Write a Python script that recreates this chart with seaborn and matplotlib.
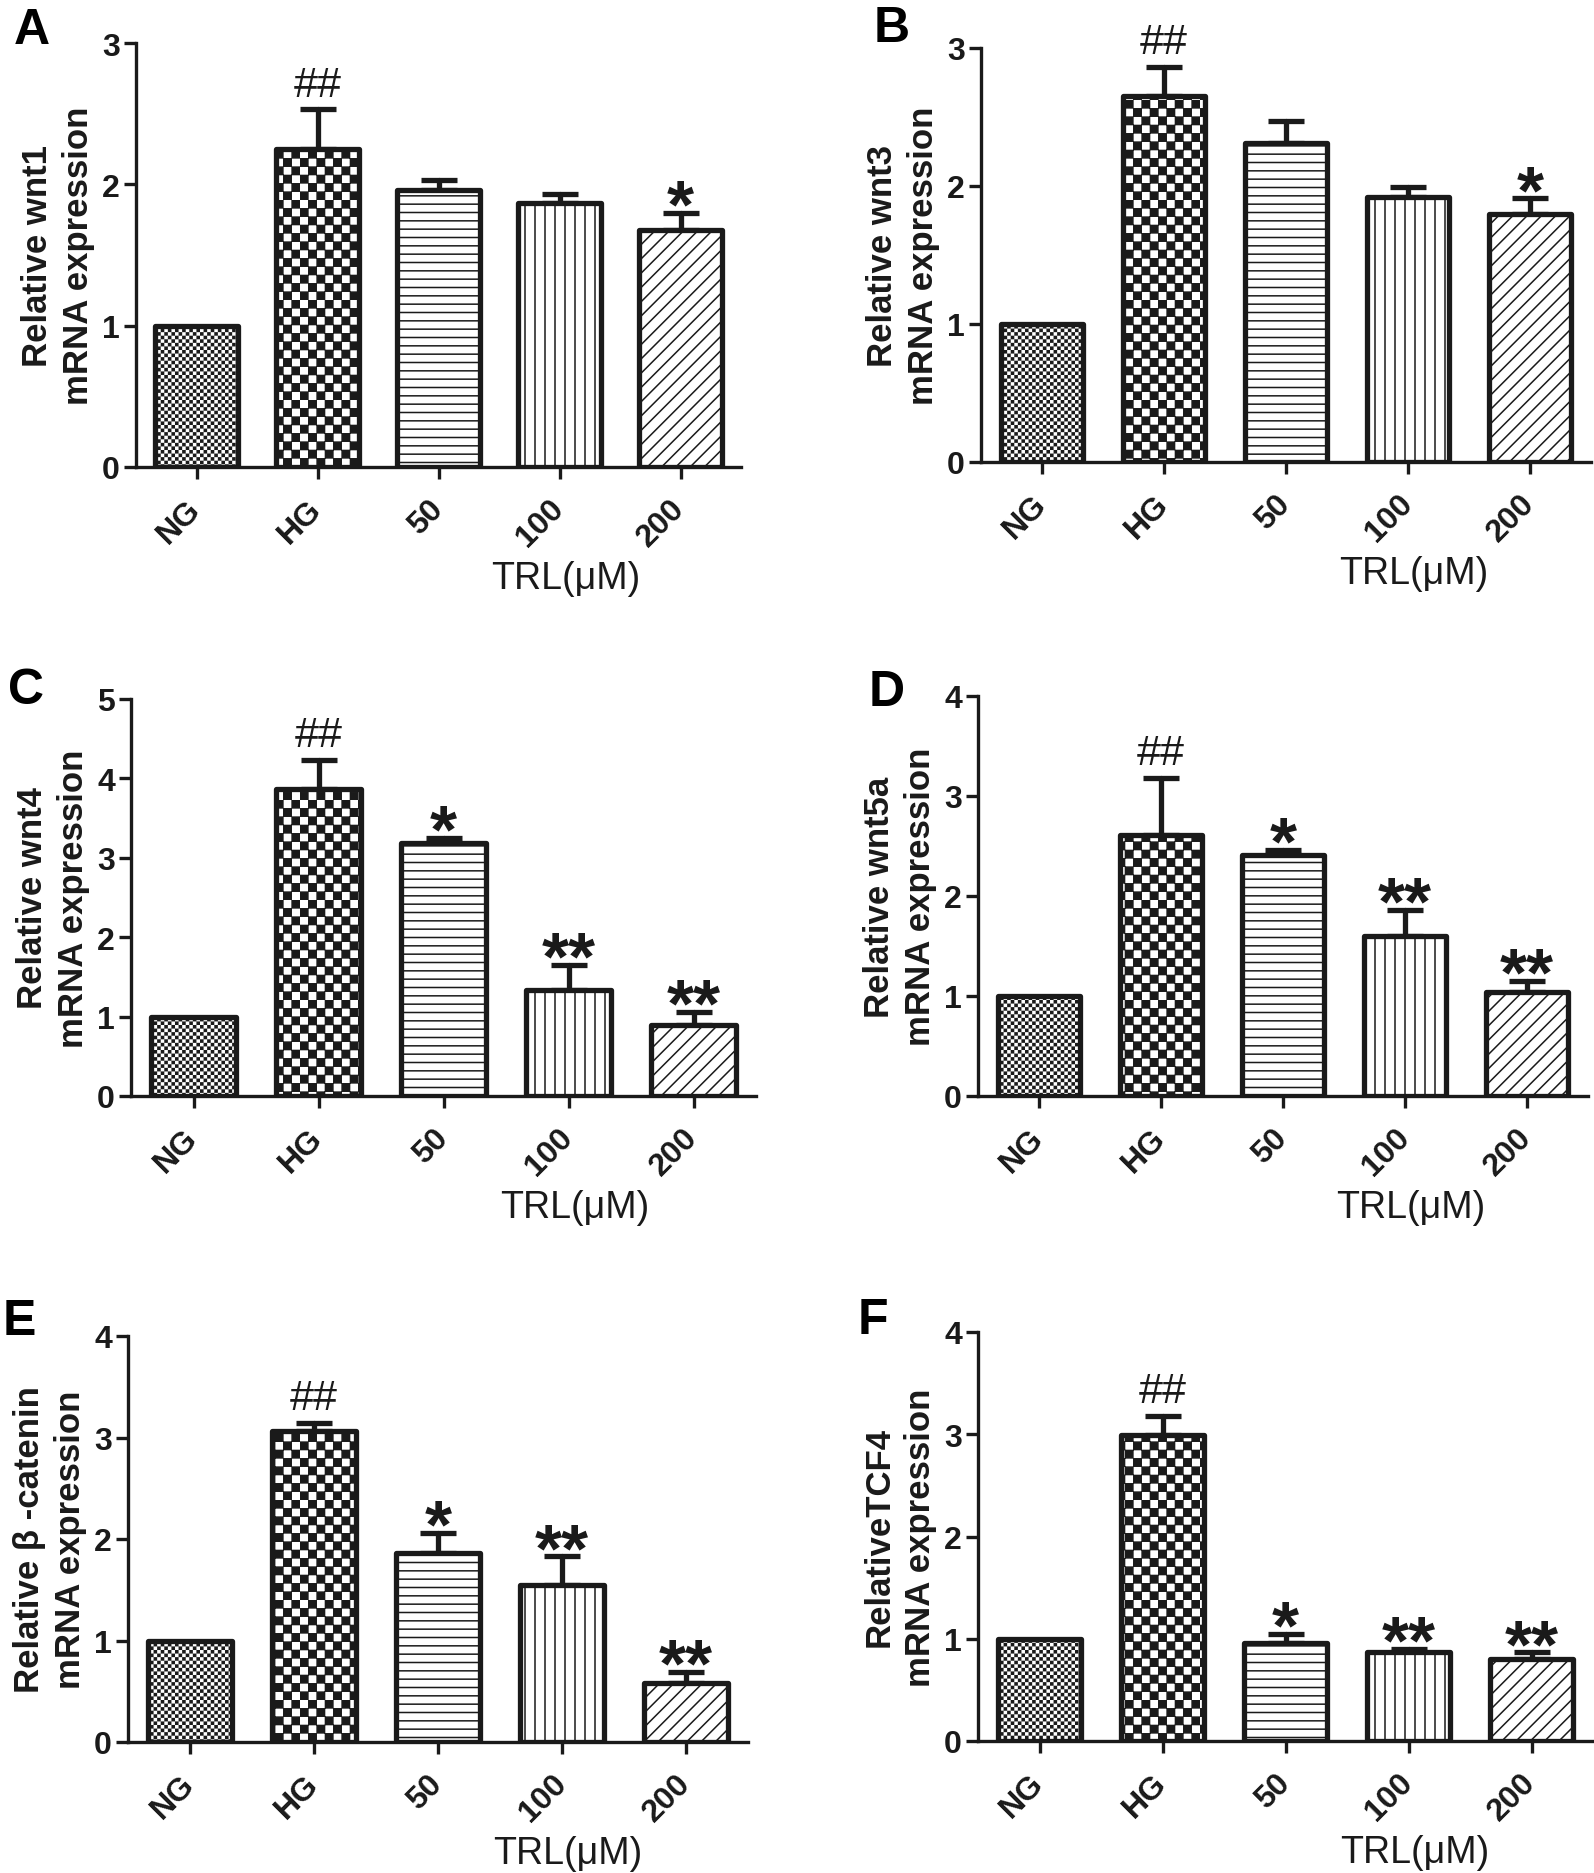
import warnings
warnings.filterwarnings('ignore')
import numpy as np
import pandas as pd
import matplotlib
matplotlib.use('Agg')
import matplotlib.pyplot as plt
import matplotlib.hatch as mhatch
import matplotlib.transforms as mtrans
from matplotlib import font_manager
from matplotlib.path import Path
import seaborn as sns

# ---------------- data ----------------
groups = ['NG', 'HG', '50', '100', '200']

wnt1_mean = [1.00, 2.25, 1.96, 1.87, 1.68]
wnt1_sem = [np.nan, 0.28, 0.07, 0.06, 0.12]
wnt1_sig = ['', '##', '', '', '*']

wnt3_mean = [1.00, 2.65, 2.31, 1.92, 1.80]
wnt3_sem = [np.nan, 0.21, 0.16, 0.07, 0.11]
wnt3_sig = ['', '##', '', '', '*']

wnt4_mean = [1.00, 3.87, 3.19, 1.33, 0.89]
wnt4_sem = [np.nan, 0.36, 0.06, 0.32, 0.17]
wnt4_sig = ['', '##', '*', '**', '**']

wnt5a_mean = [1.00, 2.61, 2.41, 1.60, 1.04]
wnt5a_sem = [np.nan, 0.57, 0.05, 0.26, 0.11]
wnt5a_sig = ['', '##', '*', '**', '**']

bcat_mean = [1.00, 3.06, 1.86, 1.55, 0.58]
bcat_sem = [np.nan, 0.08, 0.20, 0.28, 0.11]
bcat_sig = ['', '##', '*', '**', '**']

tcf4_mean = [1.00, 2.99, 0.96, 0.87, 0.80]
tcf4_sem = [np.nan, 0.19, 0.09, 0.03, 0.07]
tcf4_sig = ['', '##', '*', '**', '**']

ylabels = ['Relative wnt1\nmRNA expression',
           'Relative wnt3\nmRNA expression',
           'Relative wnt4\nmRNA expression',
           'Relative wnt5a\nmRNA expression',
           'Relative \u03b2 -catenin\nmRNA expression',
           'RelativeTCF4\nmRNA expression']
letters = ['A', 'B', 'C', 'D', 'E', 'F']
ymaxes = [3, 3, 5, 4, 4, 4]
xlabel = 'TRL(\u03bcM)'

# ---------------- custom hatches ----------------
class _CustomHatch(mhatch.HatchPatternBase):
    def __init__(self, hatch, density):
        if 'k' in hatch:
            self.checker, self.margin = 12, 0.0045
        elif 'f' in hatch:
            self.checker, self.margin = 28, 0.0075
        else:
            self.checker, self.margin = 0, 0.0
        self.vlines = 10 if 'v' in hatch else 0
        self.dlines = 14 if 'd' in hatch else 0
        nc = (self.checker * self.checker // 2) * 5
        nv = self.vlines * 2
        nd = (self.dlines + 1) * 2 if self.dlines else 0
        self.num_vertices = nc + nv + nd

    def set_vertices_and_codes(self, vertices, codes):
        idx = 0
        n = self.checker
        if n:
            s = 1.0 / n
            m = self.margin
            for i in range(n):
                for j in range(n):
                    if (i + j) % 2 == 0:
                        x0, y0 = i * s + m, j * s + m
                        x1, y1 = (i + 1) * s - m, (j + 1) * s - m
                        vertices[idx:idx + 5] = [[x0, y0], [x1, y0], [x1, y1], [x0, y1], [x0, y0]]
                        codes[idx:idx + 5] = [Path.MOVETO, Path.LINETO, Path.LINETO,
                                              Path.LINETO, Path.CLOSEPOLY]
                        idx += 5
        if self.vlines:
            k = self.vlines
            steps = np.linspace(0.0, 1.0, k, endpoint=False) + 0.5 / k
            v = vertices[idx:idx + 2 * k]
            c = codes[idx:idx + 2 * k]
            v[0::2, 0] = steps
            v[0::2, 1] = 0.0
            v[1::2, 0] = steps
            v[1::2, 1] = 1.0
            c[0::2] = Path.MOVETO
            c[1::2] = Path.LINETO
            idx += 2 * k
        if self.dlines:
            k = self.dlines
            steps = np.linspace(-0.5, 0.5, k + 1)
            v = vertices[idx:idx + 2 * (k + 1)]
            c = codes[idx:idx + 2 * (k + 1)]
            v[0::2, 0] = 0.0 + steps
            v[0::2, 1] = 0.0 - steps
            v[1::2, 0] = 1.0 + steps
            v[1::2, 1] = 1.0 - steps
            c[0::2] = Path.MOVETO
            c[1::2] = Path.LINETO
            idx += 2 * (k + 1)

mhatch._hatch_types.append(_CustomHatch)
bar_hatches = ['f', 'k', '--', 'v', 'd']

# ---------------- style ----------------
sns.set_style('ticks')
plt.rcParams['font.family'] = ['Liberation Sans', 'DejaVu Sans']
plt.rcParams['hatch.linewidth'] = 1.1
plt.rcParams['hatch.color'] = '#1a1a1a'
INK = '#1a1a1a'

_names = {f.name for f in font_manager.fontManager.ttflist}
if 'Liberation Sans Narrow' in _names:
    XLAB_FAMILY, XLAB_SIZE = ['Liberation Sans Narrow', 'DejaVu Sans'], 29
else:
    XLAB_FAMILY, XLAB_SIZE = ['Liberation Sans', 'DejaVu Sans'], 27

W, H = 1594, 1874
DPI = 100
fig = plt.figure(figsize=(W / DPI, H / DPI), dpi=DPI)

# axes boxes in pixels: left, top, right, bottom
boxes = [(136, 44, 741, 468), (981, 49, 1591, 463),
         (131, 700, 756, 1097), (978, 697, 1588, 1097),
         (128, 1337, 748, 1743), (978, 1333, 1593, 1742)]
letter_pos = [(14, 8), (874, 6), (8, 668), (869, 670), (3, 1299), (858, 1298)]

means = [wnt1_mean, wnt3_mean, wnt4_mean, wnt5a_mean, bcat_mean, tcf4_mean]
sems = [wnt1_sem, wnt3_sem, wnt4_sem, wnt5a_sem, bcat_sem, tcf4_sem]
sigs = [wnt1_sig, wnt3_sig, wnt4_sig, wnt5a_sig, bcat_sig, tcf4_sig]

for k in range(6):
    l, t, r, b = boxes[k]
    ax = fig.add_axes([l / W, 1 - b / H, (r - l) / W, (b - t) / H])
    df = pd.DataFrame({'group': groups, 'value': means[k], 'sem': sems[k], 'sig': sigs[k]})
    sns.barplot(data=df, x='group', y='value', order=groups, color='white',
                saturation=1, edgecolor=INK, linewidth=3.8, width=0.68,
                errorbar=None, ax=ax, zorder=2)
    for p, h in zip(ax.patches, bar_hatches):
        p.set_hatch(h)
        p.set_joinstyle('round')
    xs = np.array([p.get_x() + p.get_width() / 2 for p in ax.patches])
    hs = np.array([p.get_height() for p in ax.patches])
    err = df['sem'].to_numpy()
    ok = ~np.isnan(err)
    ax.errorbar(xs[ok], hs[ok], yerr=[np.zeros(ok.sum()), err[ok]], fmt='none',
                ecolor=INK, elinewidth=3.8, capsize=13, capthick=3.8, zorder=1)
    for line in ax.lines:
        line.set_solid_capstyle('round')
    for coll in ax.collections:
        coll.set_capstyle('round')
    tops = np.where(ok, hs + np.nan_to_num(err), hs)
    for x, y, s in zip(xs, tops, df['sig']):
        if not s:
            continue
        if s.startswith('#'):
            ax.annotate(s, (x, y), xytext=(0, 10), textcoords='offset points',
                        ha='center', va='baseline', fontsize=31, color=INK)
        else:
            ax.annotate(s, (x, y), xytext=(0, -10), textcoords='offset points',
                        ha='center', va='baseline', fontsize=50, fontweight='bold',
                        color=INK)

    ax.set_xlim(-0.5, 4.5)
    ax.set_ylim(0, ymaxes[k])
    ax.set_yticks(np.arange(0, ymaxes[k] + 1, 1))
    sns.despine(ax=ax)
    for sp in ['left', 'bottom']:
        ax.spines[sp].set_linewidth(2.4)
        ax.spines[sp].set_color(INK)
        ax.spines[sp].set_zorder(3)
    ax.tick_params(axis='both', length=8.6, width=2.4, color=INK, labelsize=23,
                   labelcolor=INK)
    ax.tick_params(axis='y', pad=3)
    ax.tick_params(axis='x', pad=18)
    for lbl in ax.get_yticklabels():
        lbl.set_fontweight('bold')
    ax.set_xticks(range(len(groups)))
    ax.set_xticklabels(groups, rotation=45, ha='right', va='center',
                       rotation_mode='anchor', fontweight='bold')
    ax.set_xlabel('')
    ax.set_ylabel(ylabels[k], fontsize=25, fontweight='bold', va='center',
                  linespacing=1.3, color=INK)
    ax.yaxis.set_label_coords(-78 / (r - l), 0.5)
    trans = ax.transAxes + mtrans.ScaledTranslation(0, -1.11, fig.dpi_scale_trans)
    ax.text(0.71, 0, xlabel, transform=trans, ha='center', va='center',
            fontsize=XLAB_SIZE, family=XLAB_FAMILY, color=INK)
    lx, ly = letter_pos[k]
    fig.text(lx / W, 1 - ly / H, letters[k], ha='left', va='top', fontsize=36,
             fontweight='bold', color='black')

fig.savefig('out.png', dpi=DPI)
